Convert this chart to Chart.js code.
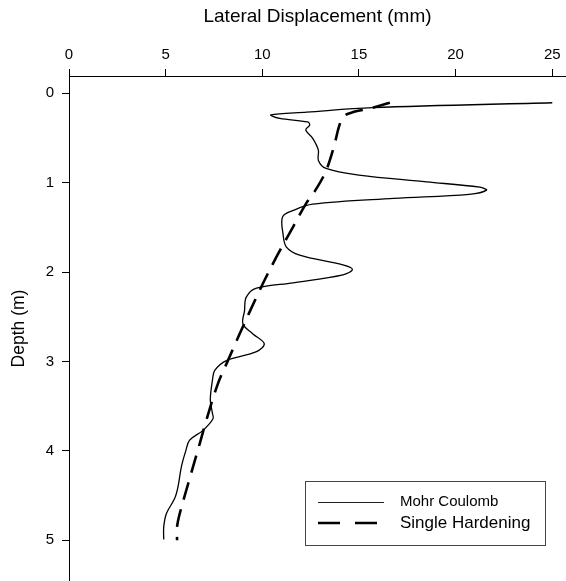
<!DOCTYPE html>
<html>
<head>
<meta charset="utf-8">
<script src="https://cdn.jsdelivr.net/npm/chart.js@4"></script>
<style>
  html, body { margin: 0; padding: 0; background: #fff; }
  #wrap { width: 566px; height: 581px; }
</style>
</head>
<body>
<div id="wrap"><canvas id="chart" width="566" height="581"></canvas></div>
<script>
// Mohr Coulomb (solid line)
var mcX = [25.0, 15.7, 12.3, 10.45, 10.9, 12.35, 12.45, 12.25, 12.6, 12.9, 12.9, 13.3, 15.0, 18.5, 21.25, 21.6, 20.7, 16.8, 12.6, 11.6,
  11.05, 11.07, 11.25, 11.93, 14.17, 14.66, 14.17, 11.6, 9.7, 9.17, 9.08, 9.0, 9.5, 10.1, 9.7, 8.14, 7.54, 7.42, 7.31, 7.42,
  7.45, 6.93, 6.24, 6.04, 5.81, 5.64, 5.47, 5.04, 4.9, 4.9];
var mcDepth = [0.105, 0.16, 0.21, 0.24, 0.28, 0.32, 0.355, 0.41, 0.50, 0.635, 0.75, 0.84, 0.915, 0.99, 1.05, 1.083, 1.13, 1.175, 1.24, 1.31,
  1.38, 1.57, 1.72, 1.81, 1.92, 1.97, 2.03, 2.12, 2.18, 2.28, 2.43, 2.58, 2.69, 2.80, 2.89, 2.99, 3.10, 3.21, 3.43, 3.58,
  3.64, 3.77, 3.88, 4.0, 4.18, 4.40, 4.53, 4.70, 4.85, 4.99];

// Single Hardening (dashed line)
var shX = [16.6, 15.55, 14.7, 14.2, 13.97, 13.75, 13.49, 13.23, 12.7, 12.3, 11.6, 10.73, 9.87, 8.83, 8.22, 7.7, 7.1, 6.76, 6.16, 5.73, 5.59, 5.59];
var shDepth = [0.105, 0.17, 0.21, 0.26, 0.37, 0.56, 0.75, 0.90, 1.10, 1.22, 1.49, 1.83, 2.20, 2.69, 2.99, 3.25, 3.66, 3.92, 4.37, 4.70, 4.85, 5.0];

var xTicks = [0, 5, 10, 15, 20, 25];
var yTicks = [0, 1, 2, 3, 4, 5];
var seriesNames = ["Mohr Coulomb", "Single Hardening"];

var FONT = "'Liberation Sans', Arial, sans-serif";

function toPoints(xs, ys) {
  return xs.map(function(x, i) { return {x: x, y: ys[i]}; });
}

// legend box drawn inside the plot, like the original
var boxLegend = {
  id: 'boxLegend',
  afterDatasetsDraw: function(chart) {
    var ctx = chart.ctx;
    ctx.save();
    ctx.strokeStyle = '#444';
    ctx.lineWidth = 1;
    ctx.strokeRect(305.5, 481.5, 240, 64);

    ctx.beginPath();
    ctx.strokeStyle = '#222';
    ctx.lineWidth = 1.2;
    ctx.moveTo(318, 502.5);
    ctx.lineTo(384, 502.5);
    ctx.stroke();

    ctx.beginPath();
    ctx.lineWidth = 2.6;
    ctx.strokeStyle = '#000';
    ctx.setLineDash([22, 15]);
    ctx.moveTo(318, 523);
    ctx.lineTo(377, 523);
    ctx.stroke();
    ctx.setLineDash([]);

    ctx.fillStyle = '#000';
    ctx.textBaseline = 'middle';
    ctx.font = "15px " + FONT;
    ctx.fillText(seriesNames[0], 400, 502);
    ctx.font = "17px " + FONT;
    ctx.fillText(seriesNames[1], 400, 523);
    ctx.restore();
  }
};

new Chart(document.getElementById('chart').getContext('2d'), {
  type: 'scatter',
  data: {
    datasets: [{
      label: seriesNames[0],
      data: toPoints(mcX, mcDepth),
      showLine: true,
      borderColor: '#000',
      borderWidth: 1.3,
      pointRadius: 0,
      tension: 0.35
    }, {
      label: seriesNames[1],
      data: toPoints(shX, shDepth),
      showLine: true,
      borderColor: '#000',
      borderWidth: 2.6,
      borderDash: [18, 10],
      pointRadius: 0,
      tension: 0.35
    }]
  },
  options: {
    responsive: false,
    animation: false,
    layout: { padding: 0 },
    plugins: {
      legend: { display: false },
      tooltip: { enabled: false }
    },
    scales: {
      x: {
        type: 'linear',
        position: 'top',
        min: 0,
        max: 25.71,
        afterBuildTicks: function(scale) {
          scale.ticks = xTicks.map(function(v) { return {value: v}; });
        },
        afterFit: function(scale) {
          scale.height = 76;
          scale.paddingLeft = 0;
          scale.paddingRight = 0;
        },
        grid: { display: true, drawOnChartArea: false, drawTicks: true, tickLength: 7, color: '#000' },
        border: { display: true, color: '#000', width: 1 },
        ticks: { color: '#000', padding: 5, maxRotation: 0, font: { family: FONT, size: 15 } },
        title: {
          display: true,
          text: 'Lateral Displacement (mm)',
          color: '#000',
          padding: { top: 5.5, bottom: 0 },
          font: { family: FONT, size: 19 }
        }
      },
      y: {
        type: 'linear',
        position: 'left',
        reverse: true,
        min: -0.194,
        max: 5.455,
        afterBuildTicks: function(scale) {
          scale.ticks = yTicks.map(function(v) { return {value: v}; });
        },
        afterFit: function(scale) {
          scale.width = 69;
          scale.paddingTop = 0;
          scale.paddingBottom = 0;
        },
        grid: { display: true, drawOnChartArea: false, drawTicks: true, tickLength: 7, color: '#000' },
        border: { display: true, color: '#000', width: 1 },
        ticks: { color: '#000', padding: 8, font: { family: FONT, size: 15 } },
        title: {
          display: true,
          text: 'Depth (m)',
          color: '#000',
          padding: { top: 8.5, bottom: 0 },
          font: { family: FONT, size: 17.5 }
        }
      }
    }
  },
  plugins: [boxLegend]
});
</script>
</body>
</html>
